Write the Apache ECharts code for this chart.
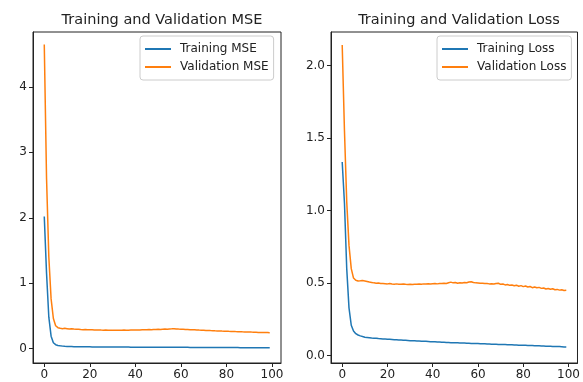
<!DOCTYPE html>
<html>
<head>
<meta charset="utf-8">
<script src="https://cdn.jsdelivr.net/npm/echarts@6/dist/echarts.min.js"></script>
<style>
  html, body { margin: 0; padding: 0; background: #fff; }
  #chart { width: 583px; height: 382px; }
</style>
</head>
<body>
<div id="chart"></div>
<script>
// epochs 0..99
var epochs = [];
for (var i = 0; i < 100; i++) epochs.push(i);

var trainMse = [
  2.02, 1.15, 0.48, 0.19, 0.09, 0.06, 0.048, 0.042, 0.038, 0.035,
  0.033, 0.032, 0.031, 0.030, 0.029, 0.029, 0.028, 0.028, 0.027, 0.027,
  0.027, 0.026, 0.026, 0.026, 0.025, 0.025, 0.025, 0.025, 0.024, 0.024,
  0.024, 0.024, 0.024, 0.023, 0.023, 0.023, 0.023, 0.023, 0.022, 0.022,
  0.022, 0.022, 0.022, 0.022, 0.021, 0.021, 0.021, 0.021, 0.021, 0.021,
  0.020, 0.020, 0.020, 0.020, 0.020, 0.020, 0.020, 0.019, 0.019, 0.019,
  0.019, 0.019, 0.019, 0.019, 0.018, 0.018, 0.018, 0.018, 0.018, 0.018,
  0.018, 0.017, 0.017, 0.017, 0.017, 0.017, 0.017, 0.017, 0.016, 0.016,
  0.016, 0.016, 0.016, 0.016, 0.016, 0.016, 0.015, 0.015, 0.015, 0.015,
  0.015, 0.015, 0.015, 0.015, 0.014, 0.014, 0.014, 0.014, 0.014, 0.014
];
var valMse = [
  4.65, 2.60, 1.40, 0.76, 0.46, 0.35, 0.32, 0.31, 0.305, 0.31,
  0.305, 0.30, 0.302, 0.298, 0.295, 0.296, 0.292, 0.29, 0.291, 0.288,
  0.287, 0.288, 0.285, 0.284, 0.286, 0.283, 0.282, 0.284, 0.281, 0.282,
  0.281, 0.28, 0.282, 0.28, 0.281, 0.283, 0.281, 0.282, 0.284, 0.283,
  0.285, 0.284, 0.286, 0.288, 0.287, 0.289, 0.291, 0.29, 0.293, 0.292,
  0.295, 0.293, 0.296, 0.298, 0.297, 0.30, 0.302, 0.305, 0.30, 0.298,
  0.297, 0.295, 0.293, 0.292, 0.29, 0.288, 0.287, 0.285, 0.283, 0.282,
  0.28, 0.278, 0.277, 0.275, 0.274, 0.272, 0.271, 0.27, 0.268, 0.267,
  0.266, 0.264, 0.263, 0.262, 0.26, 0.259, 0.258, 0.256, 0.255, 0.254,
  0.253, 0.252, 0.25, 0.249, 0.248, 0.247, 0.246, 0.245, 0.245, 0.244
];
var trainLoss = [
  1.335, 1.05, 0.60, 0.33, 0.21, 0.17, 0.152, 0.143, 0.137, 0.132,
  0.128, 0.126, 0.124, 0.122, 0.121, 0.12, 0.118, 0.117, 0.116, 0.115,
  0.114, 0.113, 0.112, 0.111, 0.11, 0.109, 0.108, 0.107, 0.106, 0.105,
  0.104, 0.104, 0.103, 0.102, 0.101, 0.1, 0.1, 0.099, 0.098, 0.097,
  0.096, 0.096, 0.095, 0.094, 0.093, 0.093, 0.092, 0.091, 0.09, 0.09,
  0.089, 0.089, 0.088, 0.087, 0.087, 0.086, 0.086, 0.085, 0.085, 0.084,
  0.084, 0.083, 0.082, 0.082, 0.081, 0.081, 0.08, 0.079, 0.079, 0.078,
  0.078, 0.077, 0.077, 0.076, 0.075, 0.075, 0.074, 0.074, 0.073, 0.073,
  0.072, 0.072, 0.071, 0.07, 0.07, 0.069, 0.069, 0.068, 0.067, 0.067,
  0.066, 0.066, 0.065, 0.064, 0.064, 0.063, 0.063, 0.062, 0.061, 0.061
];
var valLoss = [
  2.14, 1.55, 1.06, 0.76, 0.60, 0.535, 0.52, 0.515, 0.516, 0.518,
  0.515, 0.512, 0.508, 0.505, 0.502, 0.50, 0.501, 0.498, 0.497, 0.496,
  0.495, 0.497, 0.494, 0.493, 0.495, 0.493, 0.492, 0.494, 0.492, 0.491,
  0.492, 0.491, 0.493, 0.492, 0.494, 0.493, 0.495, 0.494, 0.496, 0.495,
  0.496, 0.497, 0.495, 0.498, 0.497, 0.499, 0.498, 0.503, 0.507, 0.502,
  0.504, 0.499, 0.503, 0.501, 0.505, 0.503, 0.508, 0.51, 0.505, 0.502,
  0.501, 0.499, 0.5, 0.498, 0.497, 0.495, 0.496, 0.494, 0.498, 0.499,
  0.492, 0.494, 0.488, 0.491, 0.485, 0.487, 0.482, 0.486, 0.479, 0.483,
  0.476, 0.48, 0.474, 0.477, 0.469, 0.473, 0.468, 0.471, 0.464, 0.467,
  0.46, 0.463, 0.458, 0.461, 0.455, 0.457, 0.452, 0.454, 0.449, 0.451
];

var xTicks = [0, 20, 40, 60, 80, 100];
var mseTicks = [0, 1, 2, 3, 4];
var lossTicks = [0, 0.5, 1, 1.5, 2];

var BLUE = "#1f77b4";
var ORANGE = "#ff7f0e";
var FONT = "DejaVu Sans";

function pairs(ys) {
  return epochs.map(function (x, i) {
    return [x, ys[i]];
  });
}

function xAxisFor(gridIndex) {
  return {
    type: "value",
    gridIndex: gridIndex,
    min: -4.95,
    max: 103.95,
    splitLine: { show: false },
    axisLine: { show: true, onZero: false, lineStyle: { color: "#222", width: 1 } },
    axisTick: { show: true, length: 4, customValues: xTicks, lineStyle: { color: "#222" } },
    axisLabel: { customValues: xTicks, margin: 6, color: "#222", fontSize: 12, fontFamily: FONT },
  };
}

function yAxisFor(gridIndex, min, max, ticks, digits) {
  return {
    type: "value",
    gridIndex: gridIndex,
    min: min,
    max: max,
    splitLine: { show: false },
    axisLine: { show: true, onZero: false, lineStyle: { color: "#222", width: 1 } },
    axisTick: { show: true, length: 4, customValues: ticks, lineStyle: { color: "#222" } },
    axisLabel: {
      customValues: ticks,
      margin: 6,
      color: "#222",
      fontSize: 12,
      fontFamily: FONT,
      formatter: function (v) {
        return v.toFixed(digits);
      },
    },
  };
}

function lineSeries(name, ys, color, axisIndex) {
  return {
    name: name,
    type: "line",
    xAxisIndex: axisIndex,
    yAxisIndex: axisIndex,
    data: pairs(ys),
    showSymbol: false,
    lineStyle: { color: color, width: 1.5 },
    itemStyle: { color: color },
  };
}

function legendFor(names, left) {
  return {
    orient: "vertical",
    left: left,
    top: 36,
    data: names,
    icon: "rect",
    itemWidth: 26,
    itemHeight: 2,
    itemGap: 4,
    padding: [6, 5, 6, 5],
    borderColor: "#ccc",
    borderWidth: 1,
    borderRadius: 3,
    textStyle: { fontSize: 12, fontFamily: FONT, color: "#222", lineHeight: 14, padding: [0, 0, 0, 4] },
  };
}

var chart = echarts.init(document.getElementById("chart"), null, { renderer: "canvas" });
chart.setOption({
  animation: false,
  backgroundColor: "#fff",
  title: [
    {
      text: "Training and Validation MSE",
      left: 157,
      top: 8,
      textAlign: "center",
      textStyle: { fontSize: 14.5, fontWeight: "normal", fontFamily: FONT, color: "#222" },
    },
    {
      text: "Training and Validation Loss",
      left: 454,
      top: 8,
      textAlign: "center",
      textStyle: { fontSize: 14.5, fontWeight: "normal", fontFamily: FONT, color: "#222" },
    },
  ],
  legend: [
    legendFor(["Training MSE", "Validation MSE"], 140),
    legendFor(["Training Loss", "Validation Loss"], 437),
  ],
  grid: [
    { left: 33, top: 32, width: 248, height: 331, show: true, borderColor: "#222", borderWidth: 1 },
    { left: 331, top: 32, width: 247, height: 331, show: true, borderColor: "#222", borderWidth: 1 },
  ],
  xAxis: [xAxisFor(0), xAxisFor(1)],
  yAxis: [
    yAxisFor(0, -0.22, 4.84, mseTicks, 0),
    yAxisFor(1, -0.05, 2.23, lossTicks, 1),
  ],
  series: [
    lineSeries("Training MSE", trainMse, BLUE, 0),
    lineSeries("Validation MSE", valMse, ORANGE, 0),
    lineSeries("Training Loss", trainLoss, BLUE, 1),
    lineSeries("Validation Loss", valLoss, ORANGE, 1),
  ],
});
</script>
</body>
</html>
